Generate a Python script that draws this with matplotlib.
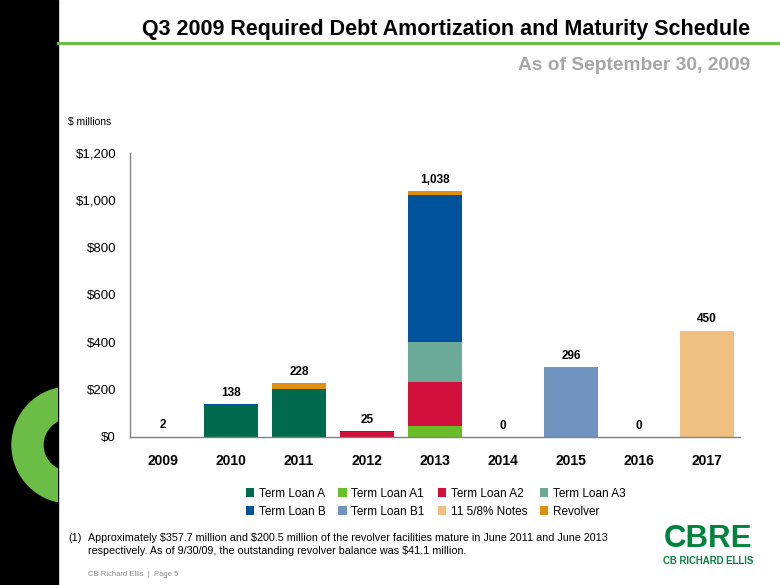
import matplotlib
matplotlib.use("Agg")
import matplotlib.pyplot as plt
import numpy as np
from matplotlib.patches import Wedge, Rectangle

years = ["2009", "2010", "2011", "2012", "2013", "2014", "2015", "2016", "2017"]
series_names = ["Term Loan A", "Term Loan A1", "Term Loan A2", "Term Loan A3",
                "Term Loan B", "Term Loan B1", "11 5/8% Notes", "Revolver"]
term_loan_a  = [0, 134, 200, 0, 0, 0, 0, 0, 0]
term_loan_a1 = [0, 0, 0, 0, 45, 0, 0, 0, 0]
term_loan_a2 = [0, 0, 0, 20, 188, 0, 0, 0, 0]
term_loan_a3 = [0, 0, 0, 0, 167, 0, 0, 0, 0]
term_loan_b  = [2, 4, 4, 5, 621, 0, 0, 0, 0]
term_loan_b1 = [0, 0, 0, 0, 0, 0, 296, 0, 0]
notes        = [0, 0, 0, 0, 0, 0, 0, 0, 450]
revolver     = [0, 0, 24, 0, 17, 0, 0, 0, 0]
total_labels = ["2", "138", "228", "25", "1,038", "0", "296", "0", "450"]
y_ticks = [0, 200, 400, 600, 800, 1000, 1200]
y_tick_labels = ["$0", "$200", "$400", "$600", "$800", "$1,000", "$1,200"]

colors = ["#006a4e", "#69be28", "#d0103a", "#6aaa96",
          "#00529b", "#7193c0", "#f0c080", "#e0900f"]

plt.rcParams['font.family'] = ['Liberation Sans', 'DejaVu Sans']

W, H = 780, 585
fig = plt.figure(figsize=(7.8, 5.85), dpi=100)

# background decorations
bg = fig.add_axes([0, 0, 1, 1])
bg.set_xlim(0, W)
bg.set_ylim(H, 0)
bg.axis("off")
bg.add_patch(Rectangle((0, 0), 58, H, color="black", zorder=0))
ring = Wedge((70, 445), 58, 0, 360, width=31, color="#6cbd45", zorder=1)
bg.add_patch(ring)
ring.set_clip_path(Rectangle((0, 0), 58, H, transform=bg.transData))
bg.plot([58, W], [43, 43], color="#6cbd45", lw=2.2, zorder=2)

bg.text(750, 30, "Q3 2009 Required Debt Amortization and Maturity Schedule",
        ha="right", va="center", fontsize=15.5, fontweight="bold", color="black")
bg.text(750, 65, "As of September 30, 2009", ha="right", va="center",
        fontsize=13.8, fontweight="bold", color="#a6a6a6")
bg.text(68, 122, "\\$ millions", ha="left", va="center", fontsize=7.5)
bg.text(68, 538, "(1)", ha="left", va="center", fontsize=7.75)
bg.text(88, 538, "Approximately \\$357.7 million and \\$200.5 million of the revolver facilities mature in June 2011 and June 2013",
        ha="left", va="center", fontsize=7.75)
bg.text(88, 551, "respectively. As of 9/30/09, the outstanding revolver balance was \\$41.1 million.",
        ha="left", va="center", fontsize=7.75)
bg.text(88, 575, "CB Richard Ellis  |  Page 5", ha="left", va="center",
        fontsize=5.5, color="#8c8c8c")
bg.text(708, 539, "CBRE", ha="center", va="center", fontsize=22.5, fontweight="bold",
        color="#00843d")
bg.text(708, 561, "CB RICHARD ELLIS", ha="center", va="center", fontsize=6.9,
        fontweight="bold", color="#00843d")

# chart
ax = fig.add_axes([130 / W, 1 - 437 / H, (740 - 130) / W, (437 - 153) / H])
x = np.arange(len(years))
data = [term_loan_a, term_loan_a1, term_loan_a2, term_loan_a3,
        term_loan_b, term_loan_b1, notes, revolver]
bottom = np.zeros(len(years))
handles = []
for name, vals, c in zip(series_names, data, colors):
    v = np.array(vals, dtype=float)
    b = ax.bar(x, v, 0.8, bottom=bottom, color=c, label=name, linewidth=0)
    handles.append(b)
    bottom += v

for xi, tot, lab in zip(x, bottom, total_labels):
    ax.text(xi, tot + 22, lab, ha="center", va="bottom", fontsize=8.5, fontweight="bold")

ax.set_xlim(-0.485, 8.485)
ax.set_ylim(0, 1200)
ax.set_yticks(y_ticks)
ax.set_yticklabels(y_tick_labels, fontsize=9.5)
ax.set_xticks(x)
ax.set_xticklabels(years, fontsize=10, fontweight="bold")
ax.tick_params(axis="y", length=0, pad=10)
ax.tick_params(axis="x", length=0, pad=12)
for s in ["top", "right"]:
    ax.spines[s].set_visible(False)
for s in ["left", "bottom"]:
    ax.spines[s].set_color("#808080")
    ax.spines[s].set_linewidth(1.0)

# legend: row-major order in reference, matplotlib fills column-major
order = [0, 4, 1, 5, 2, 6, 3, 7]
leg = fig.legend([handles[i] for i in order], [series_names[i] for i in order],
                 loc="upper left", ncol=4,
                 bbox_to_anchor=(235 / W, 1 - 477 / H), frameon=False,
                 fontsize=8.5, handlelength=0.7, handleheight=0.7,
                 handletextpad=0.4, columnspacing=1.1, labelspacing=0.5)

fig.savefig("out.png", dpi=100)
